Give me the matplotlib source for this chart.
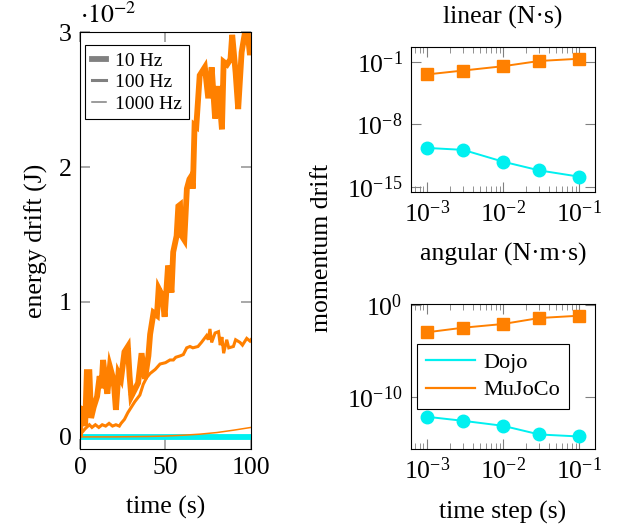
import matplotlib.pyplot as plt
import matplotlib.ticker as mticker
from matplotlib.lines import Line2D
import numpy as np

plt.rcParams['font.family'] = ['Liberation Serif', 'DejaVu Serif']
plt.rcParams['mathtext.fontset'] = 'stix'
plt.rcParams['font.size'] = 18.5

orange = '#FF8000'
cyan = '#00F0F0'
tick_gray = '#999999'

# energy drift (units of 1e-2 J), MuJoCo
t_10hz = [0, 0.5, 2, 3, 4, 5.5, 6.5, 8, 10, 11.5, 12.5, 13.5, 15, 16, 17.5, 19, 20, 21,
          22.5, 24, 26, 28, 29, 30, 32, 34, 36, 38, 40, 41, 43, 45, 46, 48, 49.5, 51.5,
          53.5, 54.5, 56.5, 57.5, 58.5, 59, 61, 62.5, 64, 65, 66, 67, 68, 70, 72, 73, 75,
          77, 79, 81, 83, 84, 86, 88, 89, 91, 92.5, 94.5, 96.5, 98, 99.4, 100]
e_10hz = [0.02, 0.21, 0.20, 0.08, 0.48, 0.48, 0.14, 0.22, 0.30, 0.45, 0.36, 0.57, 0.40,
          0.32, 0.52, 0.45, 0.37, 0.20, 0.47, 0.43, 0.63, 0.67, 0.45, 0.30, 0.35, 0.40,
          0.62, 0.43, 0.60, 0.76, 0.92, 0.90, 1.10, 1.05, 0.89, 1.27, 1.07, 1.37, 1.49,
          1.71, 1.72, 1.50, 1.46, 1.84, 1.91, 1.93, 1.84, 2.31, 2.30, 2.68, 2.72, 2.74,
          2.51, 2.74, 2.36, 2.60, 2.28, 2.78, 2.76, 2.80, 2.98, 2.70, 2.43, 2.85, 3.00,
          3.00, 2.83, 2.90]

t_100hz = [0, 1, 3, 5.5, 7, 9, 11, 13, 15, 17, 19, 21, 23, 24, 26, 28, 30, 32, 35, 37,
           39, 41, 44, 46.8, 50, 52.6, 54.6, 56, 58.5, 60.4, 62.4, 64.3, 66, 69, 71, 74,
           75, 76, 77, 79, 81, 82, 83, 84, 85.8, 87, 89.7, 91, 93.6, 95, 97.5, 99.4, 100]
e_100hz = [0.0, 0.03, 0.06, 0.09, 0.07, 0.09, 0.07, 0.09, 0.08, 0.10, 0.08, 0.09, 0.08,
           0.10, 0.13, 0.18, 0.22, 0.26, 0.31, 0.39, 0.44, 0.47, 0.50, 0.54, 0.55, 0.57,
           0.57, 0.59, 0.60, 0.61, 0.66, 0.67, 0.66, 0.67, 0.70, 0.75, 0.72, 0.80, 0.70,
           0.77, 0.78, 0.68, 0.74, 0.62, 0.72, 0.66, 0.67, 0.72, 0.70, 0.68, 0.73, 0.71,
           0.72]

t_1000hz = [0, 20, 40, 50, 60, 70, 80, 90, 100]
e_1000hz = [0.0, 0.0, 0.003, 0.006, 0.012, 0.02, 0.032, 0.05, 0.07]

# Dojo energy drift stays at zero
t_dojo = [0, 100]
e_dojo = [0.0, 0.0]

# momentum drift vs time step
dt = [1e-3, 3e-3, 1e-2, 3e-2, 1e-1]
lin_mujoco = [10**-2.4, 10**-1.96, 10**-1.48, 10**-0.89, 10**-0.64]
lin_dojo = [10**-10.64, 10**-10.86, 10**-12.18, 10**-13.16, 10**-13.86]
ang_mujoco = [10**-2.93, 10**-2.43, 10**-2.03, 10**-1.38, 10**-1.13]
ang_dojo = [10**-12.1, 10**-12.54, 10**-13.08, 10**-14.02, 10**-14.24]

widths = [4.2, 2.2, 1.1]

fig = plt.figure(figsize=(6.23, 5.29), dpi=100)
ax = fig.add_axes([0.1284, 0.1512, 0.2745, 0.788])
ax1 = fig.add_axes([0.6597, 0.6376, 0.2953, 0.2741])
ax2 = fig.add_axes([0.6597, 0.1512, 0.2953, 0.2741])

for lw in widths:
    ax.plot(t_dojo, np.array(e_dojo) * 1e-2, color=cyan, lw=lw, solid_joinstyle='miter')
for tt, ee, lw in zip([t_1000hz, t_100hz, t_10hz], [e_1000hz, e_100hz, e_10hz], widths[::-1]):
    ax.plot(tt, np.array(ee) * 1e-2, color=orange, lw=lw, solid_joinstyle='miter')

ax.set_xlim(0, 100)
ax.set_ylim(-0.0009, 0.03)
ax.set_xticks([0, 50, 100])
ax.set_yticks([0, 0.01, 0.02, 0.03])
ax.yaxis.set_major_formatter(mticker.FuncFormatter(lambda v, p: f"{v * 100:g}"))
ax.tick_params(direction='in', length=7, color=tick_gray, width=1.2,
               top=True, right=True, pad=6)
ax.text(0.0, 1.01, r'$\cdot 10^{-2}$', transform=ax.transAxes, ha='left', va='bottom')
ax.set_xlabel('time (s)', labelpad=12)
ax.set_ylabel('energy drift (J)', labelpad=8)

handles = [Line2D([], [], color='#808080', lw=lw) for lw in widths]
leg = ax.legend(handles, ['10 Hz', '100 Hz', '1000 Hz'], loc='upper left',
                fontsize=14, handlelength=0.7, handletextpad=0.5, fancybox=False,
                edgecolor='black', framealpha=1, borderpad=0.35, labelspacing=0.2,
                bbox_to_anchor=(0.03, 0.969), borderaxespad=0)
leg.get_frame().set_linewidth(0.8)

for a, dojo, mujoco in [(ax1, lin_dojo, lin_mujoco), (ax2, ang_dojo, ang_mujoco)]:
    a.plot(dt, dojo, color=cyan, lw=1.4, marker='o', ms=9, label='Dojo')
    a.plot(dt, mujoco, color=orange, lw=1.4, marker='s', ms=9, label='MuJoCo')
    a.set_xscale('log')
    a.set_yscale('log')
    a.set_xlim(10**-3.21, 10**-0.79)
    a.set_xticks([1e-3, 1e-2, 1e-1])
    a.xaxis.set_minor_locator(mticker.LogLocator(base=10, subs=np.arange(2, 10)))
    a.yaxis.set_minor_locator(mticker.NullLocator())
    a.tick_params(which='both', direction='in', color='#808080', top=True, right=True)
    a.tick_params(which='major', length=7, pad=6)
    a.tick_params(which='minor', length=4)

ax1.set_ylim(10**-15.55, 10**0.71)
ax1.set_yticks([1e-15, 1e-8, 1e-1])
ax1.yaxis.set_minor_locator(mticker.NullLocator())
ax1.set_title('linear (N·s)', fontsize=18.5, pad=17)
ax1.set_xlabel('angular (N·m·s)', labelpad=12)

ax2.set_ylim(10**-15.6, 10**0.14)
ax2.set_yticks([1e-10, 1e0])
ax2.yaxis.set_minor_locator(mticker.NullLocator())
ax2.set_xlabel('time step (s)', labelpad=12)

leg2 = ax2.legend(handles=[Line2D([], [], color=cyan, lw=1.6),
                           Line2D([], [], color=orange, lw=1.6)],
                  labels=['Dojo', 'MuJoCo'], loc='center left', bbox_to_anchor=(0.033, 0.5),
                  fontsize=16, fancybox=False, edgecolor='black', framealpha=1,
                  handlelength=2.2, borderpad=0.4, labelspacing=0.3, handletextpad=0.4,
                  borderaxespad=0)
leg2.get_frame().set_linewidth(0.8)

fig.text(0.517, 0.532, 'momentum drift', rotation=90, ha='center', va='center')

fig.savefig('out.png', dpi=100)
